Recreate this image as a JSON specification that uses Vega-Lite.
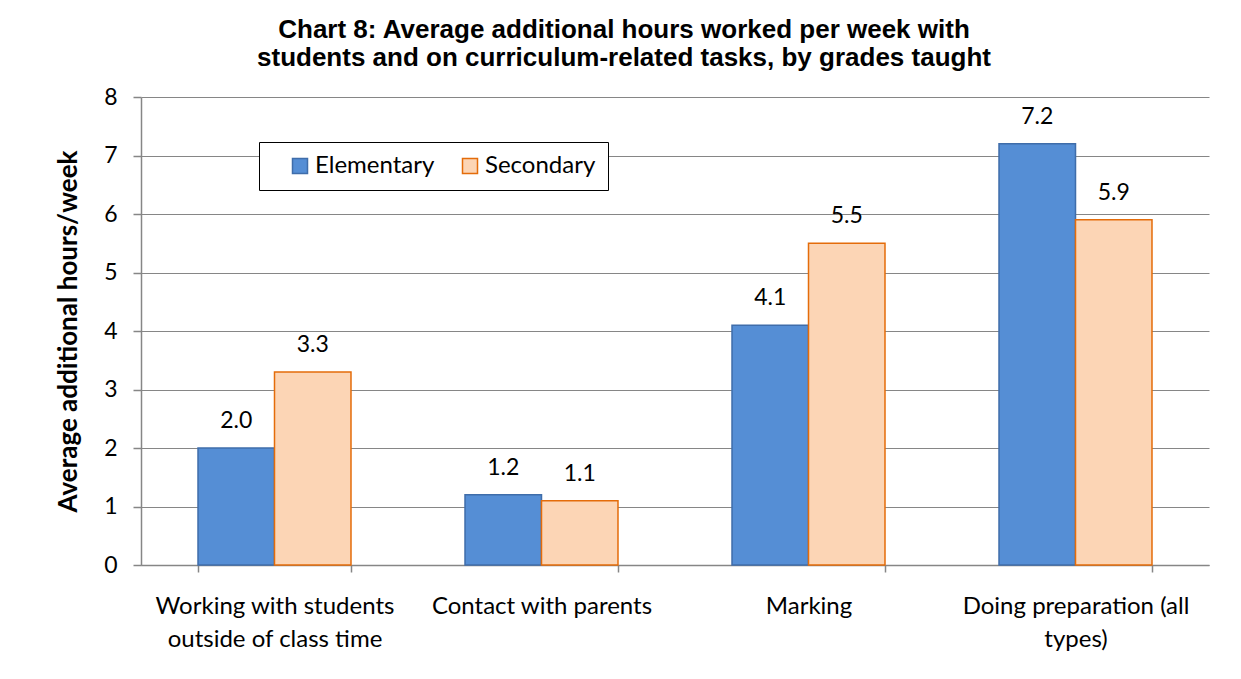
{
  "$schema": "https://vega.github.io/schema/vega-lite/v6.json",
  "autosize": {"type": "none"},
  "width": 1068,
  "height": 468,
  "padding": {"left": 141, "top": 97, "right": 32, "bottom": 114},
  "background": "white",
  "title": {
    "text": ["Chart 8: Average additional hours worked per week with", "students and on curriculum-related tasks, by grades taught"],
    "font": "Liberation Sans",
    "fontSize": 26,
    "fontWeight": "bold",
    "color": "black",
    "anchor": "middle",
    "dx": -51,
    "offset": 15,
    "lineHeight": 28
  },
  "data": {
    "values": [
      {"task": "Working with students outside of class time", "grade": "Elementary", "hours": 2.0},
      {"task": "Working with students outside of class time", "grade": "Secondary", "hours": 3.3},
      {"task": "Contact with parents", "grade": "Elementary", "hours": 1.2},
      {"task": "Contact with parents", "grade": "Secondary", "hours": 1.1},
      {"task": "Marking", "grade": "Elementary", "hours": 4.1},
      {"task": "Marking", "grade": "Secondary", "hours": 5.5},
      {"task": "Doing preparation (all types)", "grade": "Elementary", "hours": 7.2},
      {"task": "Doing preparation (all types)", "grade": "Secondary", "hours": 5.9}
    ]
  },
  "encoding": {
    "x": {
      "field": "task",
      "type": "nominal",
      "sort": ["Working with students outside of class time", "Contact with parents", "Marking", "Doing preparation (all types)"],
      "scale": {"paddingInner": 0.427, "paddingOuter": 0.2135},
      "axis": {
        "title": null,
        "labelAngle": 0,
        "tickBand": "extent",
        "tickSize": 7,
        "tickColor": "#868686",
        "domainColor": "#868686",
        "domainWidth": 1.5,
        "tickWidth": 1.5,
        "labelPadding": 22,
        "labelLineHeight": 33,
        "labelBaseline": "top",
        "labelFont": "Lato",
        "labelFontSize": 24,
        "labelColor": "black",
        "labelLimit": 400,
        "labelExpr": "datum.label == 'Working with students outside of class time' ? ['Working with students', 'outside of class time'] : datum.label == 'Doing preparation (all types)' ? ['Doing preparation (all', 'types)'] : datum.label"
      }
    },
    "xOffset": {"field": "grade", "sort": ["Elementary", "Secondary"], "scale": {"paddingInner": 0, "paddingOuter": 0}},
    "y": {
      "field": "hours",
      "type": "quantitative",
      "scale": {"domain": [0, 8], "nice": false},
      "axis": {
        "title": "Average additional hours/week",
        "titleFont": "Lato",
        "titleFontSize": 26,
        "titleFontWeight": "bold",
        "titleColor": "black",
        "titlePadding": 22,
        "values": [0, 1, 2, 3, 4, 5, 6, 7, 8],
        "grid": true,
        "gridColor": "#868686",
        "gridWidth": 1,
        "domainColor": "#868686",
        "domainWidth": 1.5,
        "tickColor": "#868686",
        "tickWidth": 1.5,
        "tickSize": 8,
        "labelPadding": 16,
        "labelFont": "Lato",
        "labelFontSize": 23,
        "labelColor": "black"
      }
    }
  },
  "layer": [
    {
      "mark": {"type": "bar", "strokeWidth": 1.5},
      "encoding": {
        "color": {
          "field": "grade",
          "type": "nominal",
          "scale": {"domain": ["Elementary", "Secondary"], "range": ["#558ED5", "#FCD5B5"]},
          "legend": {
            "title": null,
            "orient": "none",
            "legendX": 118,
            "legendY": 45,
            "direction": "horizontal",
            "strokeColor": "black",
            "fillColor": "white",
            "padding": 12,
            "symbolType": "square",
            "symbolSize": 225,
            "symbolStrokeWidth": 1.5,
            "symbolOffset": 17,
            "labelOffset": 3,
            "columnPadding": 6,
            "labelFont": "Lato",
            "labelFontSize": 24,
            "labelColor": "black"
          }
        },
        "stroke": {
          "field": "grade",
          "type": "nominal",
          "scale": {"domain": ["Elementary", "Secondary"], "range": ["#3F6DAA", "#E46C0A"]},
          "legend": null
        }
      }
    },
    {
      "mark": {"type": "text", "baseline": "alphabetic", "dy": -20, "font": "Lato", "fontSize": 23, "color": "black"},
      "encoding": {
        "text": {"field": "hours", "type": "quantitative", "format": ".1f"}
      }
    }
  ],
  "config": {"view": {"stroke": null}}
}
